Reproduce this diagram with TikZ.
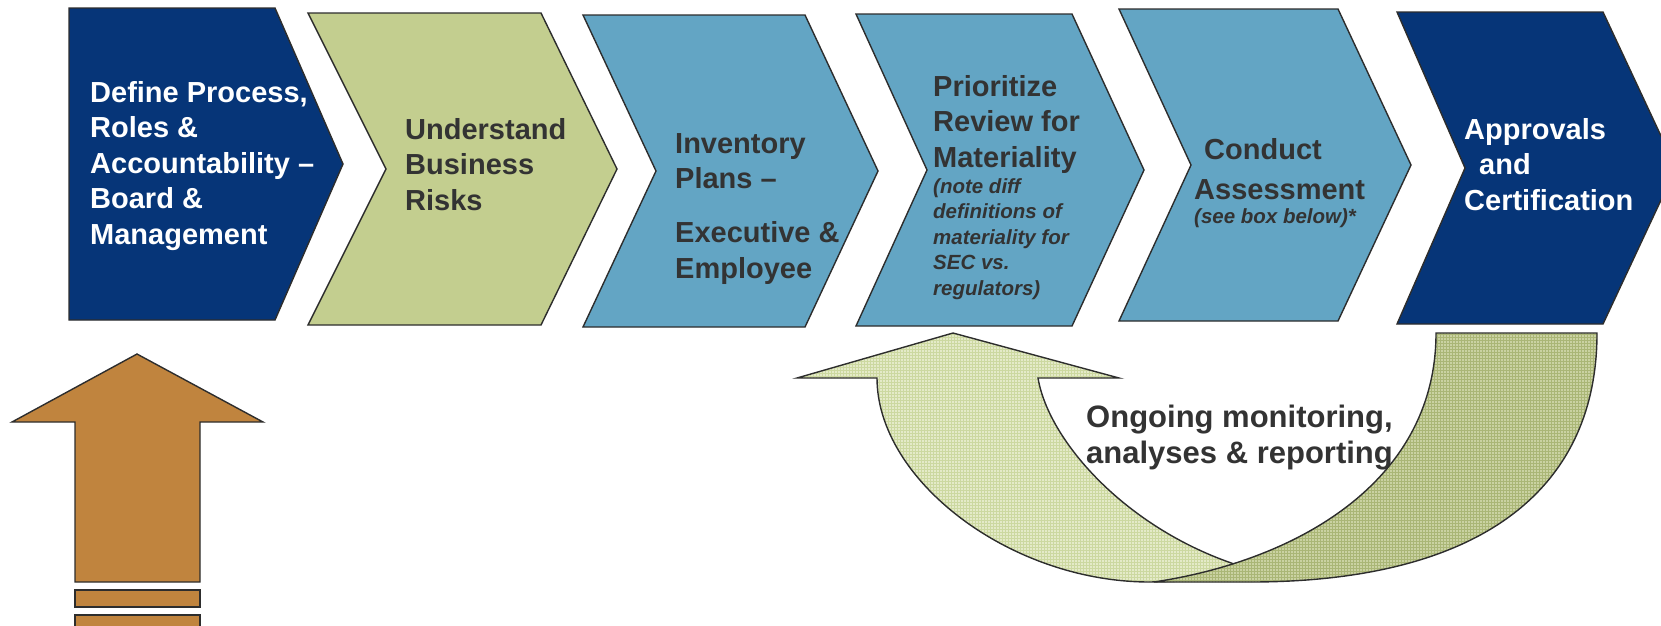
\documentclass[tikz,border=0pt]{standalone}
\usepackage{fontspec}
\setmainfont{Liberation Sans}
\usetikzlibrary{patterns}

\definecolor{navy}{RGB}{6,53,120}
\definecolor{sage}{RGB}{195,206,143}
\definecolor{steel}{RGB}{99,165,196}
\definecolor{ink}{RGB}{51,51,51}
\definecolor{edge}{RGB}{45,45,45}
\definecolor{ochre}{RGB}{192,132,62}
\definecolor{palegreen}{RGB}{228,234,200}
\definecolor{palegrid}{RGB}{204,216,160}
\definecolor{olive}{RGB}{202,210,162}
\definecolor{olivegrid}{RGB}{170,182,118}

\begin{document}
\begin{tikzpicture}[x=1pt,y=-1pt,
  chev/.style={draw=edge, line width=1.4pt, line join=miter},
  outline/.style={draw=edge, line width=1.4pt, line join=miter},
  title/.style={anchor=north west, inner sep=0pt, align=left,
    font=\fontsize{29}{35.5}\selectfont\bfseries},
  note/.style={anchor=north west, inner sep=0pt, align=left,
    font=\fontsize{20.5}{25.5}\selectfont\bfseries\itshape},
  caption/.style={anchor=north west, inner sep=0pt, align=left, text=ink,
    font=\fontsize{31}{36}\selectfont\bfseries},
]
\useasboundingbox (0,0) rectangle (1661,625);
\clip (0,0) rectangle (1661,625);

% process chevrons
\path[chev, fill=navy]  (69,8) -- (275,8) -- (343,164) -- (275,320) -- (69,320) -- cycle;
\path[chev, fill=sage]  (308,13) -- (541,13) -- (617,169) -- (541,325) -- (308,325) -- (386,169) -- cycle;
\path[chev, fill=steel] (583,15) -- (805,15) -- (878,171) -- (805,327) -- (583,327) -- (656,171) -- cycle;
\path[chev, fill=steel] (856,14) -- (1072,14) -- (1144,170) -- (1072,326) -- (856,326) -- (927,170) -- cycle;
\path[chev, fill=steel] (1119,9) -- (1338,9) -- (1411,165) -- (1338,321) -- (1119,321) -- (1191,165) -- cycle;
\path[chev, fill=navy]  (1397,12) -- (1603,12) -- (1676,168) -- (1603,324) -- (1397,324) -- (1465,168) -- cycle;

% step labels
\node[title, text=white] (define) at (90,81)
  {Define Process,\\Roles \&\\Accountability –\\Board \&\\Management};
\node[title, text=ink] (risks) at (405,118) {Understand\\Business\\Risks};
\node[title, text=ink] (inventory) at (675,133)
  {Inventory\\Plans –\\[18.5pt]Executive \&\\Employee};
\node[title, text=ink] (prioritize) at (933,75) {Prioritize\\Review for\\Materiality};
\node[note, text=ink] (prionote) at (933,178)
  {(note diff\\definitions of\\materiality for\\SEC vs.\\regulators)};
\node[title, text=ink] (conduct) at (1194,138) {\hspace*{10pt}Conduct\\[4.5pt]Assessment};
\node[note, text=ink] (conductnote) at (1194,208) {(see box below)*};
\node[title, text=white] (approvals) at (1464,118)
  {Approvals\\\hspace*{15pt}and\\Certification};

% upward arrow with base bars
\path[outline, fill=ochre] (137,354) -- (263,422) -- (200,422) -- (200,582)
  -- (75,582) -- (75,422) -- (12,422) -- cycle;
\path[outline, fill=ochre] (75,590) rectangle (200,607);
\path[outline, fill=ochre] (75,615) rectangle (200,634);

% feedback loop: rising half with arrow head
\path[outline, preaction={fill=palegreen}, pattern=grid, pattern color=palegrid]
  (953,333) -- (1119,378) -- (1038,378)
  .. controls (1050,450) and (1150,555) .. (1290,578)
  -- (1150,582)
  .. controls (1010,582) and (877,480) .. (877,378)
  -- (797,378) -- cycle;

\node[caption] (loop) at (1086,405) {Ongoing monitoring,\\analyses \& reporting};

% feedback loop: descending half under the last step
\path[outline, preaction={fill=olive}, pattern=grid, pattern color=olivegrid]
  (1436,333) -- (1597,333)
  .. controls (1597,490) and (1480,582) .. (1250,582)
  -- (1154,582)
  .. controls (1300,560) and (1436,480) .. (1436,333) -- cycle;
\end{tikzpicture}
\end{document}
